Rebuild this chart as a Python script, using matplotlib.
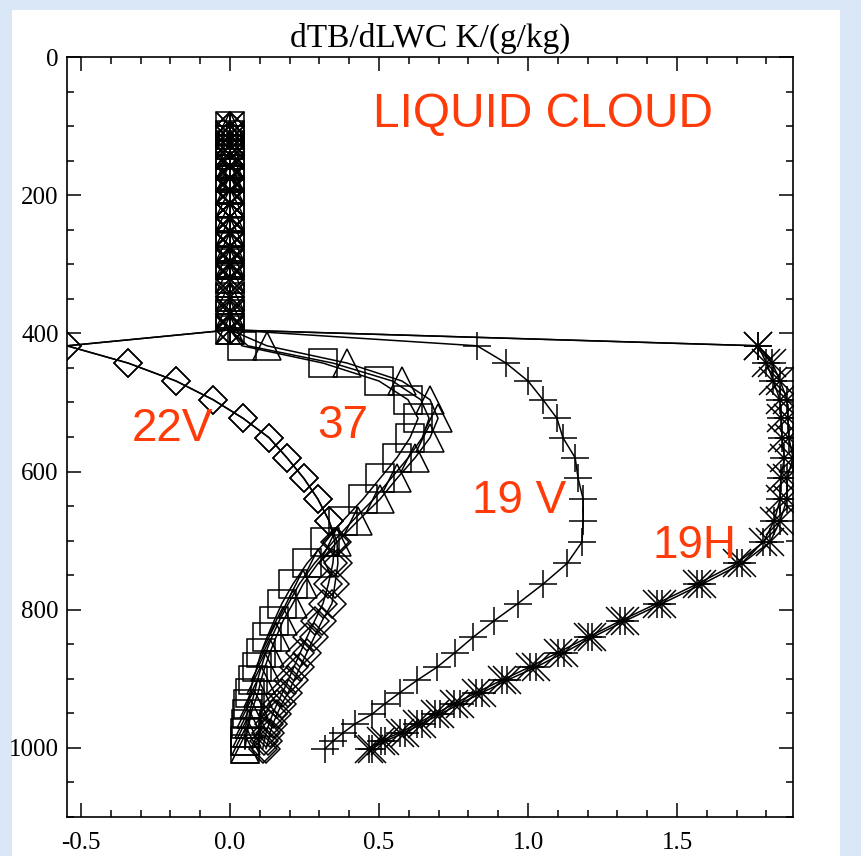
import matplotlib
matplotlib.use("Agg")
import matplotlib.pyplot as plt
from matplotlib.patches import Rectangle
from matplotlib.ticker import MultipleLocator, FixedLocator, FixedFormatter

# Pressure levels (hPa): clear-sky levels above the cloud, then cloud levels
p_top = [100, 113, 127, 142, 158, 175, 193, 212, 232, 253, 275, 298, 322, 347, 372, 395]
p_cloud = [418, 443, 469, 496, 523, 551, 580, 610, 640, 671, 702, 733, 763,
           791, 816, 840, 862, 883, 902, 920, 936, 951, 965, 978, 990, 1001]

# Jacobians above cloud top are zero for every channel
zero_top = [0.0, 0.0, 0.0, 0.0, 0.0, 0.0, 0.0, 0.0, 0.0, 0.0, 0.0, 0.0, 0.0, 0.0, 0.0, 0.0]

# dTB/dLWC in the cloud layer, per channel
ch22v = [-0.547, -0.342, -0.181, -0.057, 0.044, 0.131, 0.191, 0.248, 0.295, 0.332, 0.359, 0.362, 0.352,
         0.342, 0.309, 0.282, 0.258, 0.235, 0.215, 0.195, 0.174, 0.158, 0.144, 0.134, 0.128, 0.121]
ch22v_b = [-0.547, -0.342, -0.181, -0.057, 0.044, 0.131, 0.191, 0.248, 0.295, 0.332, 0.352, 0.345, 0.330,
           0.312, 0.284, 0.258, 0.236, 0.214, 0.195, 0.176, 0.158, 0.143, 0.131, 0.121, 0.115, 0.110]
ch37v = [0.040, 0.312, 0.500, 0.597, 0.631, 0.604, 0.560, 0.503, 0.446, 0.379, 0.319, 0.258, 0.211,
         0.174, 0.148, 0.124, 0.104, 0.091, 0.077, 0.067, 0.060, 0.057, 0.054, 0.050, 0.050, 0.050]
ch37h = [0.124, 0.393, 0.577, 0.671, 0.698, 0.671, 0.621, 0.560, 0.503, 0.430, 0.359, 0.295, 0.245,
         0.211, 0.178, 0.154, 0.134, 0.117, 0.104, 0.094, 0.081, 0.070, 0.064, 0.057, 0.054, 0.050]
ch37_b = [0.060, 0.345, 0.545, 0.640, 0.668, 0.645, 0.598, 0.540, 0.482, 0.412, 0.345, 0.283, 0.232,
          0.196, 0.165, 0.140, 0.120, 0.105, 0.092, 0.082, 0.072, 0.065, 0.060, 0.055, 0.052, 0.050]
ch19v = [0.829, 0.926, 1.000, 1.050, 1.097, 1.117, 1.158, 1.168, 1.185, 1.185, 1.181, 1.131, 1.050,
         0.966, 0.886, 0.815, 0.755, 0.695, 0.628, 0.570, 0.520, 0.477, 0.420, 0.380, 0.346, 0.319]
ch19h = [1.772, 1.819, 1.846, 1.869, 1.872, 1.875, 1.889, 1.869, 1.869, 1.846, 1.812, 1.718, 1.584,
         1.450, 1.326, 1.215, 1.121, 1.027, 0.930, 0.846, 0.772, 0.705, 0.644, 0.587, 0.520, 0.477]
ch19h_b = [1.772, 1.800, 1.823, 1.845, 1.850, 1.852, 1.860, 1.848, 1.846, 1.826, 1.790, 1.700, 1.566,
           1.432, 1.310, 1.200, 1.100, 1.005, 0.912, 0.826, 0.752, 0.688, 0.626, 0.570, 0.505, 0.465]

# Axis ticks
y_ticks = [0, 200, 400, 600, 800, 1000]
y_labels = ["0", "200", "400", "600", "800", "1000"]
x_ticks = [-0.5, 0.0, 0.5, 1.0, 1.5]
x_labels = ["-0.5", "0.0", "0.5", "1.0", "1.5"]

# Channel labels: (text, x, p)
labels = [("22V", -0.329, 556), ("37", 0.292, 552), ("19 V", 0.812, 660), ("19H", 1.416, 725)]

RED = "#ff3b0a"
SERIF = ["Liberation Serif", "DejaVu Serif"]
SANS = ["Liberation Sans", "DejaVu Sans"]


def profile(values):
    # full profile: zero above cloud, then in-cloud values
    return zero_top + values, p_top + p_cloud


def draw_series(ax, values, marker, ms, with_line=True):
    x, p = profile(values)
    ax.plot(x, p, color="black", lw=1.1 if with_line else 0,
            marker=marker, ms=ms, mfc="none", mec="black", mew=1.1)


def main():
    fig = plt.figure(figsize=(8.61, 8.56), dpi=100)
    fig.patch.set_facecolor("#d9e7f6")
    # white slide area (behind the axes)
    fig.patches.append(Rectangle((12 / 861, 0), (840 - 12) / 861, (856 - 10) / 856,
                                 transform=fig.transFigure, facecolor="white",
                                 edgecolor="none", zorder=-10))

    ax = fig.add_axes([67 / 861, 1 - 817 / 856, (793 - 67) / 861, (817 - 57) / 856])
    ax.set_facecolor("white")

    # 22V diamonds (two nearly identical runs)
    draw_series(ax, ch22v, "D", 14)
    draw_series(ax, ch22v_b, "D", 14)

    # 37 squares / triangles + companion line
    draw_series(ax, ch37v, "s", 20)
    draw_series(ax, ch37h, "^", 19.5)
    x, p = profile(ch37_b)
    ax.plot(x, p, color="black", lw=1.1)

    # 19V plus
    draw_series(ax, ch19v, "+", 20)

    # 19H asterisk = plus + x
    for vals in (ch19h, ch19h_b):
        draw_series(ax, vals, "+", 20)
        x, p = profile(vals)
        ax.plot(x, p, lw=0, marker="x", ms=20, mec="black", mew=1.1)

    # exact data range on x, like IDL xstyle=1
    all_x = ch22v + ch22v_b + ch37v + ch37h + ch19v + ch19h + ch19h_b
    ax.set_xlim(min(all_x), max(all_x))
    ax.set_ylim(1100, 0)

    ax.xaxis.set_major_locator(FixedLocator(x_ticks))
    ax.xaxis.set_major_formatter(FixedFormatter(x_labels))
    ax.xaxis.set_minor_locator(MultipleLocator(0.1))
    ax.yaxis.set_major_locator(FixedLocator(y_ticks))
    ax.yaxis.set_major_formatter(FixedFormatter(y_labels))
    ax.yaxis.set_minor_locator(MultipleLocator(50))

    ax.tick_params(which="both", direction="in", top=True, right=True, width=1.1, color="black",
                   labelsize=18, labelfontfamily="Liberation Serif")
    ax.tick_params(which="major", length=10)
    ax.tick_params(which="minor", length=5)
    ax.tick_params(axis="x", which="major", pad=11)
    ax.tick_params(axis="y", which="major", pad=6)
    for sp in ax.spines.values():
        sp.set_linewidth(1.2)

    ax.text(0.5, 1.013, "dTB/dLWC K/(g/kg)", transform=ax.transAxes, ha="center",
            va="baseline", fontsize=24, family=SERIF)

    ax.text(0.48, 102, "LIQUID CLOUD", color=RED, fontsize=34.5, family=SANS,
            ha="left", va="baseline")
    for text, lx, lp in labels:
        ax.text(lx, lp, text, color=RED, fontsize=33, family=SANS, ha="left", va="baseline")

    plt.savefig("out.png", dpi=100, facecolor=fig.get_facecolor())


if __name__ == "__main__":
    main()
